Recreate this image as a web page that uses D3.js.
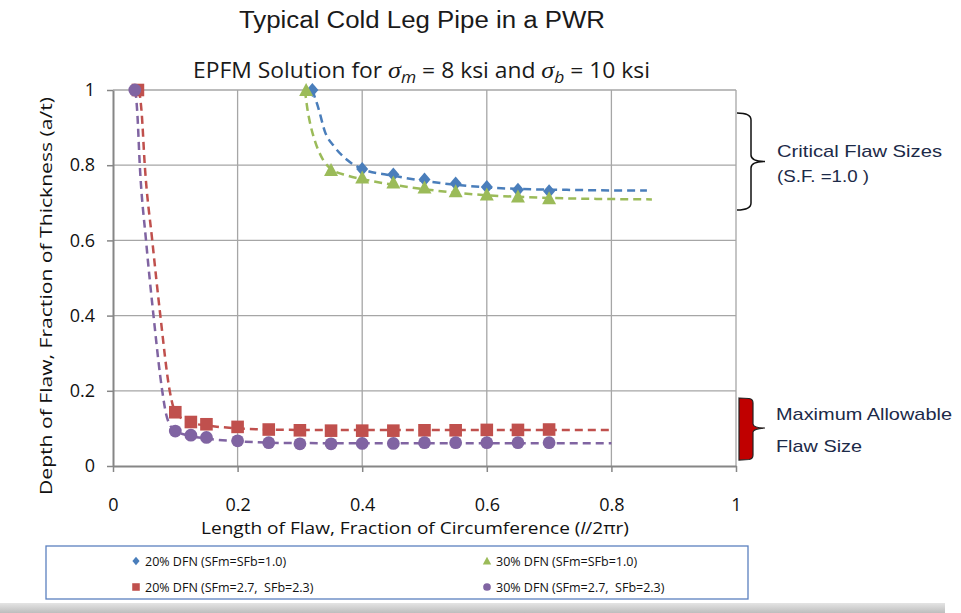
<!DOCTYPE html>
<html><head><meta charset="utf-8">
<script src="https://cdn.jsdelivr.net/npm/d3@7"></script>
<style>body{margin:0;background:#fff}svg{display:block}</style>
</head><body><svg id="c" width="961" height="613"></svg>
<script>
// ---------- data ----------
const xTicks = [0, 0.2, 0.4, 0.6, 0.8, 1];
const yTicks = [0, 0.2, 0.4, 0.6, 0.8, 1];
const seriesNames = ["20% DFN (SFm=SFb=1.0)", "30% DFN (SFm=SFb=1.0)", "20% DFN (SFm=2.7,  SFb=2.3)", "30% DFN (SFm=2.7,  SFb=2.3)"];

// 20% DFN (SFm=SFb=1.0) - diamonds
const blueX = [0.32, 0.40, 0.45, 0.50, 0.55, 0.60, 0.65, 0.70];
const blueY = [1.0, 0.790, 0.775, 0.762, 0.751, 0.742, 0.735, 0.731];
// 30% DFN (SFm=SFb=1.0) - triangles
const greenX = [0.31, 0.35, 0.40, 0.45, 0.50, 0.55, 0.60, 0.65, 0.70];
const greenY = [1.0, 0.787, 0.767, 0.754, 0.741, 0.731, 0.722, 0.717, 0.712];
// 20% DFN (SFm=2.7, SFb=2.3) - squares
const redX = [0.04, 0.10, 0.125, 0.15, 0.20, 0.25, 0.30, 0.35, 0.40, 0.45, 0.50, 0.55, 0.60, 0.65, 0.70];
const redY = [1.0, 0.143, 0.117, 0.111, 0.104, 0.097, 0.095, 0.094, 0.094, 0.094, 0.095, 0.095, 0.096, 0.096, 0.097];
// 30% DFN (SFm=2.7, SFb=2.3) - circles
const purpleX = [0.035, 0.10, 0.125, 0.15, 0.20, 0.25, 0.30, 0.35, 0.40, 0.45, 0.50, 0.55, 0.60, 0.65, 0.70];
const purpleY = [1.0, 0.093, 0.082, 0.076, 0.067, 0.062, 0.059, 0.059, 0.060, 0.060, 0.062, 0.062, 0.062, 0.062, 0.062];

// dashed fitted curves
const blueFitX = [0.32, 0.33, 0.34, 0.355, 0.375, 0.40, 0.45, 0.50, 0.55, 0.60, 0.65, 0.70, 0.75, 0.80, 0.857];
const blueFitY = [1.0, 0.95, 0.89, 0.85, 0.815, 0.79, 0.772, 0.758, 0.748, 0.741, 0.737, 0.735, 0.734, 0.733, 0.733];
const greenFitX = [0.308, 0.312, 0.318, 0.325, 0.337, 0.35, 0.375, 0.40, 0.45, 0.50, 0.55, 0.60, 0.65, 0.70, 0.75, 0.80, 0.865];
const greenFitY = [1.0, 0.95, 0.90, 0.86, 0.815, 0.79, 0.773, 0.763, 0.748, 0.736, 0.727, 0.720, 0.716, 0.713, 0.711, 0.710, 0.709];
const redFitX = [0.042, 0.046, 0.051, 0.063, 0.076, 0.091, 0.097, 0.101, 0.125, 0.15, 0.20, 0.25, 0.30, 0.40, 0.50, 0.60, 0.70, 0.80];
const redFitY = [1.0, 0.94, 0.80, 0.60, 0.40, 0.20, 0.156, 0.142, 0.115, 0.108, 0.100, 0.097, 0.096, 0.096, 0.096, 0.096, 0.096, 0.096];
const purpleFitX = [0.036, 0.039, 0.043, 0.053, 0.065, 0.079, 0.085, 0.091, 0.101, 0.125, 0.15, 0.20, 0.25, 0.30, 0.40, 0.50, 0.60, 0.70, 0.80];
const purpleFitY = [1.0, 0.94, 0.80, 0.60, 0.40, 0.20, 0.14, 0.11, 0.093, 0.080, 0.073, 0.066, 0.062, 0.061, 0.0605, 0.0605, 0.0605, 0.0605, 0.0605];

// ---------- chart ----------
const svg = d3.select("#c");
const W = 961, H = 613;
const x = d3.scaleLinear().domain([0, 1]).range([113, 736]);
const y = d3.scaleLinear().domain([0, 1]).range([466, 90]);
const colors = ["#4a7ebb", "#9bbb59", "#c0504d", "#8064a2"];
const zip = (a, b) => a.map((v, i) => [v, b[i]]);

// background decorations
const defs = svg.append("defs");
const g1 = defs.append("linearGradient").attr("id", "band").attr("x1", 0).attr("y1", 0).attr("x2", 0).attr("y2", 1);
g1.append("stop").attr("offset", 0).attr("stop-color", "#e4e4e4");
g1.append("stop").attr("offset", 1).attr("stop-color", "#bdbdbd");
svg.append("rect").attr("width", W).attr("height", H).attr("fill", "#fff");
svg.append("rect").attr("x", 0).attr("y", 603).attr("width", 945).attr("height", 10).attr("fill", "url(#band)");

// gridlines
svg.append("g").selectAll("line").data(yTicks.filter(d => d > 0)).join("line")
  .attr("x1", x(0)).attr("x2", x(1)).attr("y1", d => y(d)).attr("y2", d => y(d))
  .attr("stroke", "#a6a6a6").attr("stroke-width", 1.3);
svg.append("g").selectAll("line").data(xTicks.filter(d => d > 0)).join("line")
  .attr("y1", y(0)).attr("y2", y(1)).attr("x1", d => x(d)).attr("x2", d => x(d))
  .attr("stroke", "#a6a6a6").attr("stroke-width", 1.3);

// axes
const fmt = d3.format("");
const gx = svg.append("g").attr("transform", `translate(0,${y(0)})`)
  .call(d3.axisBottom(x).tickValues(xTicks).tickFormat(fmt).tickSize(6).tickSizeOuter(0).tickPadding(26));
const gy = svg.append("g").attr("transform", `translate(${x(0)},0)`)
  .call(d3.axisLeft(y).tickValues(yTicks).tickFormat(fmt).tickSize(6).tickSizeOuter(0).tickPadding(12));
[gx, gy].forEach(g => {
  g.select(".domain").attr("stroke", "#868686").attr("stroke-width", 2);
  g.selectAll(".tick line").attr("stroke", "#868686").attr("stroke-width", 1.5);
  g.selectAll(".tick text").attr("font-family", "Open Sans").attr("font-size", 18).attr("fill", "#111");
});

// dashed curves
const line = d3.line().x(d => x(d[0])).y(d => y(d[1])).curve(d3.curveMonotoneX);
const fits = [zip(blueFitX, blueFitY), zip(greenFitX, greenFitY), zip(redFitX, redFitY), zip(purpleFitX, purpleFitY)];
svg.append("g").selectAll("path").data(fits).join("path")
  .attr("d", line).attr("fill", "none").attr("stroke", (d, i) => colors[i])
  .attr("stroke-width", 2.5).attr("stroke-dasharray", "8,5");

// markers
const shapes = [
  s => `M0,${-7*s}L${6*s},0L0,${7*s}L${-6*s},0Z`,
  s => `M0,${-7*s}L${7*s},${6*s}L${-7*s},${6*s}Z`,
  s => `M${-6.3*s},${-6.3*s}H${6.3*s}V${6.3*s}H${-6.3*s}Z`,
  s => d3.arc()({innerRadius: 0, outerRadius: 6.4*s, startAngle: 0, endAngle: 2*Math.PI})
];
const pts = [zip(blueX, blueY), zip(greenX, greenY), zip(redX, redY), zip(purpleX, purpleY)];
[0, 1, 2, 3].forEach(i => {
  svg.append("g").selectAll("path").data(pts[i]).join("path")
    .attr("d", shapes[i](1))
    .attr("transform", d => `translate(${x(d[0])},${y(d[1])})`)
    .attr("fill", colors[i]);
});

// titles
svg.append("text").attr("x", 239).attr("y", 28).attr("font-family", "Liberation Sans").attr("font-size", 23)
  .attr("fill", "#1a1a1a").attr("textLength", 366).attr("lengthAdjust", "spacingAndGlyphs")
  .text("Typical Cold Leg Pipe in a PWR");
const st = svg.append("text").attr("x", 193).attr("y", 78).attr("font-family", "Open Sans").attr("font-size", 21)
  .attr("fill", "#1a1a1a").style("white-space", "pre").attr("textLength", 457).attr("lengthAdjust", "spacingAndGlyphs");
st.append("tspan").text("EPFM Solution for ");
st.append("tspan").attr("font-family", "Liberation Serif").attr("font-style", "italic").attr("font-size", 24).text("σ");
st.append("tspan").attr("font-style", "italic").attr("font-size", 16).attr("dy", 5).text("m");
st.append("tspan").attr("dy", -5).text(" = 8 ksi and ");
st.append("tspan").attr("font-family", "Liberation Serif").attr("font-style", "italic").attr("font-size", 24).text("σ");
st.append("tspan").attr("font-style", "italic").attr("font-size", 16).attr("dy", 5).text("b");
st.append("tspan").attr("dy", -5).text(" = 10 ksi");

// axis titles
const xt = svg.append("text").attr("x", 201).attr("y", 534).attr("font-family", "Open Sans").attr("font-size", 17)
  .attr("fill", "#111").attr("textLength", 428).attr("lengthAdjust", "spacingAndGlyphs");
xt.append("tspan").text("Length of Flaw, Fraction of Circumference (");
xt.append("tspan").attr("font-style", "italic").text("l");
xt.append("tspan").text("/2πr)");
svg.append("text").attr("transform", "translate(52,296) rotate(-90)").attr("text-anchor", "middle")
  .attr("font-family", "Open Sans").attr("font-size", 17).attr("fill", "#111")
  .attr("textLength", 398).attr("lengthAdjust", "spacingAndGlyphs")
  .text("Depth of Flaw, Fraction of Thickness (a/t)");

// legend
svg.append("rect").attr("x", 46).attr("y", 546).attr("width", 702).attr("height", 53)
  .attr("fill", "#fff").attr("stroke", "#5b80bf").attr("stroke-width", 1.3);
const legPos = [[136, 561], [487, 561], [136, 587], [487, 587]];
seriesNames.forEach((n, i) => {
  const [lx, ly] = legPos[i];
  svg.append("path").attr("d", shapes[i](0.6)).attr("transform", `translate(${lx},${ly})`).attr("fill", colors[i]);
  svg.append("text").attr("x", lx + 9).attr("y", ly + 4.5).attr("font-family", "Open Sans").attr("font-size", 12.5)
    .attr("fill", "#111").style("white-space", "pre").text(n);
});

// annotations
svg.append("path").attr("d", "M737,113 Q751,113 751,120 L751,155 Q751,161.5 765,161.5 Q751,161.5 751,168 L751,203 Q751,210 737,210")
  .attr("fill", "none").attr("stroke", "#111").attr("stroke-width", 1.5);
svg.append("path").attr("d", "M739,398 L749,398.5 Q753,399 753,403 L753,424 Q753.5,428 765,428 Q753.5,428.5 753,432 L753,455 Q753,459 749,459.5 L739,460 Z")
  .attr("fill", "#c00000").attr("stroke", "#222").attr("stroke-width", 1.2);
const ann = [["Critical Flaw Sizes", 777, 157, 165], ["(S.F. =1.0 )", 777, 182, 92], ["Maximum Allowable", 776, 420, 176], ["Flaw Size", 776, 451.5, 86]];
ann.forEach(a => svg.append("text").attr("x", a[1]).attr("y", a[2]).attr("font-family", "Liberation Sans").attr("font-size", 17)
  .attr("fill", "#1c2a48").attr("textLength", a[3]).attr("lengthAdjust", "spacingAndGlyphs").style("white-space", "pre").text(a[0]));
</script></body></html>
